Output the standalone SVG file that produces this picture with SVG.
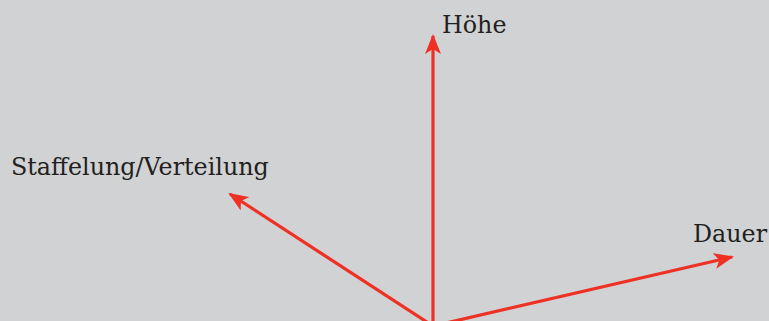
<svg xmlns="http://www.w3.org/2000/svg" width="769" height="321" viewBox="0 0 769 321">
<style>
.ax{stroke:#ee3124;stroke-width:3.2;fill:none}
.lb{font-family:"DejaVu Serif","Liberation Serif",serif;font-size:23.8px;fill:#231f20}
</style>
<defs>
<marker id="ah" viewBox="0 0 20 16" refX="18" refY="8" markerWidth="20" markerHeight="16" markerUnits="userSpaceOnUse" orient="auto">
<path d="M0,0 L20,8 L0,16 L5,8 Z" fill="#ee3124"/>
</marker>
</defs>
<rect width="769" height="321" fill="#d1d2d4"/>
<g id="connectors">
<line class="ax" x1="433" y1="326" x2="433" y2="36" marker-end="url(#ah)"/>
<line class="ax" x1="433" y1="326" x2="230" y2="194" marker-end="url(#ah)"/>
<line class="ax" x1="433" y1="326" x2="732" y2="257" marker-end="url(#ah)"/>
</g>
<g id="hoehe"><text class="lb" x="442" y="33">Höhe</text></g>
<g id="staffelung"><text class="lb" x="11" y="175">Staffelung/Verteilung</text></g>
<g id="dauer"><text class="lb" x="693" y="242">Dauer</text></g>
</svg>
